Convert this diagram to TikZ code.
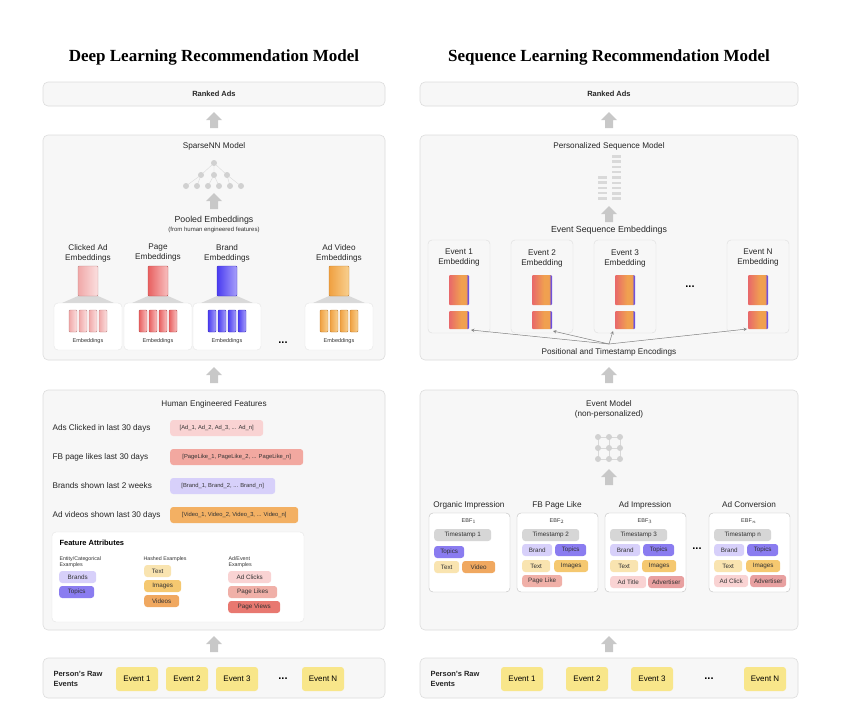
\documentclass[tikz,border=0pt]{standalone}
\usepackage{fontspec}
\setmainfont{Liberation Sans}
\newfontfamily\ttlfont{Liberation Serif}
\definecolor{pnl}{HTML}{F7F7F7}
\definecolor{pbd}{HTML}{DDDDDD}
\definecolor{garr}{HTML}{C8C8C8}
\definecolor{yel}{HTML}{F8E68A}
\definecolor{blueD}{HTML}{8A7CF0}
\definecolor{blueL}{HTML}{D7D0FA}
\definecolor{txtY}{HTML}{F9E4B0}
\definecolor{imgY}{HTML}{F5C870}
\definecolor{vidO}{HTML}{F0A860}
\definecolor{pinkL}{HTML}{F9D3D3}
\definecolor{pinkM}{HTML}{F0B0A8}
\definecolor{redM}{HTML}{E87870}
\definecolor{advR}{HTML}{E8A0A0}
\definecolor{tsG}{HTML}{D6D6D6}
\definecolor{evR}{HTML}{E8686A}
\definecolor{evO}{HTML}{F0A050}
\definecolor{evP}{HTML}{6A4FE0}
\definecolor{pgR}{HTML}{F2A8A0}
\definecolor{vdO}{HTML}{F3B063}
\pgfdeclarehorizontalshading{evgrad}{100bp}{color(0bp)=(evR);color(25bp)=(evR);color(55bp)=(evO);color(68bp)=(evO);color(72bp)=(evP);color(100bp)=(evP)}
\tikzset{
 panel/.style={draw=pbd,fill=pnl,rounded corners=5pt,line width=0.6pt},
 uarr/.pic={\fill[garr] (-4,8) -- (-4,0) -- (-8,0) -- (0,-8) -- (8,0) -- (4,0) -- (4,8) -- cycle;},
 lbl/.style={font=\fontsize{8.2}{10}\selectfont,align=center,text=black!85},
 sm/.style={font=\fontsize{6}{7}\selectfont,text=black!80},
 pill/.style={rounded corners=3pt,inner sep=0pt,minimum height=12pt,font=\fontsize{6.3}{7}\selectfont,text=black!80},
 evt/.style={fill=yel,rounded corners=3pt,minimum width=42pt,minimum height=24pt,inner sep=0pt,font=\fontsize{8}{9}\selectfont},
 gdot/.style={circle,fill=black!18,inner sep=0pt,minimum size=6pt},
 dots/.style={font=\bfseries\fontsize{11}{11}\selectfont},
}
\begin{document}
\begin{tikzpicture}[x=1pt,y=-1pt]
\useasboundingbox[fill=white] (0,0) rectangle (847,721);
% titles
\node[font=\ttlfont\bfseries\fontsize{17}{19}\selectfont] (t1) at (214,57) {Deep Learning Recommendation Model};
\node[font=\ttlfont\bfseries\fontsize{17}{19}\selectfont] (t2) at (609,57) {Sequence Learning Recommendation Model};
% ===== LEFT =====
\draw[panel] (43,82) rectangle (385,106);
\node[lbl,font=\bfseries\fontsize{7.5}{8}\selectfont] (lra) at (214,94) {Ranked Ads};
\pic at (214,120) {uarr};
\draw[panel] (43,135) rectangle (385,360);
\node[lbl] (lsp) at (214,146) {SparseNN Model};
% tree
\draw[black!15] (214,163) -- (201,175) (214,163) -- (214,175) (214,163) -- (227,175)
 (201,175) -- (186,186) (201,175) -- (197,186) (214,175) -- (208,186) (214,175) -- (219,186) (227,175) -- (230,186) (227,175) -- (241,186);
\node[gdot] (n0) at (214,163) {};
\foreach \i/\x in {1/201,2/214,3/227}{\node[gdot] (m\i) at (\x,175) {};}
\foreach \i/\x in {1/186,2/197,3/208,4/219,5/230,6/241}{\node[gdot] (b\i) at (\x,186) {};}
\pic at (214,201) {uarr};
\node[lbl,font=\fontsize{8.8}{10}\selectfont] (lpe) at (214,220) {Pooled Embeddings};
\node[sm] (lpe2) at (214,229.5) {(from human engineered features)};
\foreach \cx/\nm/\ca/\cb/\tx in {88/ca/F0A8A8/FBE0E0/Clicked Ad\\Embeddings,158/pg/E86060/F8C0C0/Page\\Embeddings,227/br/4A3CF0/A8A0FA/Brand\\Embeddings,339/av/F0A040/F8D090/Ad Video\\Embeddings}{
 \node[lbl,font=\fontsize{8.2}{10}\selectfont] (lab\nm) at (\cx,253) {\tx};
 \definecolor{cA}{HTML}{\ca}\definecolor{cB}{HTML}{\cb}
 \fill[black!15] (\cx-10,296) -- (\cx+10,296) -- (\cx+26,303) -- (\cx-26,303) -- cycle;
 \draw[left color=cA,right color=cB,draw=cA!80!black,rounded corners=1pt] (\cx-10,266) rectangle (\cx+10,296);
 \node[draw=black!10,fill=white,rounded corners=4pt,minimum width=68pt,minimum height=47pt] (card\nm) at (\cx,326.5) {};
 \foreach \k in {0,1,2,3}{\draw[left color=cA,right color=cB,draw=cA!80!black,rounded corners=1pt] (\cx-19+\k*10,310) rectangle (\cx-11+\k*10,332);}
 \node[sm,font=\fontsize{5.5}{6}\selectfont] at (\cx,341) {Embeddings};
}
\node[dots] (ldots1) at (283,343) {...};
\pic at (214,375) {uarr};
% human engineered
\draw[panel] (43,390) rectangle (385,630);
\node[lbl] (lhe) at (214,404) {Human Engineered Features};
\foreach \y/\tx/\pt/\w/\c in {428/Ads Clicked in last 30 days/{[Ad\_1, Ad\_2, Ad\_3, ... Ad\_n]}/93/pinkL,457/FB page likes last 30 days/{[PageLike\_1, PageLike\_2, ... PageLike\_n]}/133/pgR,486/Brands shown last 2 weeks/{[Brand\_1, Brand\_2, ... Brand\_n]}/105/blueL,515/Ad videos shown last 30 days/{[Video\_1, Video\_2, Video\_3, ... Video\_n]}/128/vdO}{
 \node[lbl,anchor=west] at (49,\y) {\tx};
 \node[pill,anchor=west,minimum width=\w pt,minimum height=16pt,fill=\c,font=\fontsize{5.8}{6}\selectfont] at (170,\y) {\pt};
}
\draw[draw=black!10,fill=white,rounded corners=4pt] (52,532) rectangle (304,622);
\node[anchor=west,font=\bfseries\fontsize{7.5}{8}\selectfont] (lfa) at (56,543) {Feature Attributes};
\node[sm,anchor=north west,align=left,font=\fontsize{5.3}{6.3}\selectfont] at (56,553) {Entity/Categorical\\Examples};
\node[sm,anchor=north west,align=left,font=\fontsize{5.3}{6.3}\selectfont] at (140,553) {Hashed Examples};
\node[sm,anchor=north west,align=left,font=\fontsize{5.3}{6.3}\selectfont] at (225,553) {Ad/Event\\Examples};
\node[pill,anchor=west,fill=blueL,minimum width=37pt] at (59,577) {Brands};
\node[pill,anchor=west,fill=blueD,minimum width=35pt] at (59,592) {Topics};
\node[pill,anchor=west,fill=txtY,minimum width=27pt] at (144,571) {Text};
\node[pill,anchor=west,fill=imgY,minimum width=37pt] at (144,586) {Images};
\node[pill,anchor=west,fill=vidO,minimum width=35pt] at (144,601) {Videos};
\node[pill,anchor=west,fill=pinkL,minimum width=43pt] at (228,577) {Ad Clicks};
\node[pill,anchor=west,fill=pinkM,minimum width=49pt] at (228,592) {Page Likes};
\node[pill,anchor=west,fill=redM,minimum width=52pt] at (228,607) {Page Views};
\pic at (214,644) {uarr};
\draw[panel] (43,658) rectangle (385,698);
\node[lbl,anchor=west,align=left,font=\bfseries\fontsize{7.5}{9.5}\selectfont] (lpr) at (50,679) {Person's Raw\\Events};
\node[evt] (le1) at (137,679) {Event 1};
\node[evt] (le2) at (187,679) {Event 2};
\node[evt] (le3) at (237,679) {Event 3};
\node[dots] (ldots2) at (283,679) {...};
\node[evt] (len) at (323,679) {Event N};
% ===== RIGHT =====
\draw[panel] (420,82) rectangle (798,106);
\node[lbl,font=\bfseries\fontsize{7.5}{8}\selectfont] (rra) at (609,94) {Ranked Ads};
\pic at (609,120) {uarr};
\draw[panel] (420,135) rectangle (798,360);
\node[lbl] (rps) at (609,146) {Personalized Sequence Model};
\foreach \k in {0,...,8}{\fill[black!15] (612,155+\k*5.3) rectangle (621,157.5+\k*5.3);}
\foreach \k in {0,...,4}{\fill[black!15] (598,176+\k*5.3) rectangle (607,178.5+\k*5.3);}
\pic at (609,214) {uarr};
\node[lbl,font=\fontsize{8.8}{10}\selectfont] (res) at (609,230) {Event Sequence Embeddings};
\coordinate (pe) at (609,344);
\foreach \x/\tx in {428/Event 1\\Embedding,511/Event 2\\Embedding,594/Event 3\\Embedding,727/Event N\\Embedding}{
 \draw[draw=pbd,fill=pnl,rounded corners=4pt] (\x,240) rectangle (\x+62,333);
 \node[lbl] at (\x+31,258) {\tx};
 \shade[shading=evgrad,rounded corners=1pt] (\x+21,275) rectangle (\x+41,305);
 \shade[shading=evgrad,rounded corners=1pt] (\x+21,311) rectangle (\x+41,329);
}
\coordinate (sb1) at (471,330);\coordinate (sb2) at (553,331);\coordinate (sb3) at (613,331);\coordinate (sb4) at (747,329);
\foreach \n in {1,...,4}{\draw[->,>=stealth,black!50,line width=0.5pt] (pe) -- (sb\n);}
\node[dots] (rdots1) at (690,287) {...};
\node[lbl] (rpt) at (609,352) {Positional and Timestamp Encodings};
\pic at (609,375) {uarr};
\draw[panel] (420,390) rectangle (798,630);
\node[lbl] (rem) at (609,409) {Event Model\\(non-personalized)};
\draw[black!15] (598,437) -- (620,437) (598,448) -- (620,448) (598,459) -- (620,459)
 (598,437) -- (598,459) (609,437) -- (609,459) (620,437) -- (620,459);
\foreach \i/\x in {1/598,2/609,3/620}{\foreach \j/\y in {1/437,2/448,3/459}{\node[gdot] (g\i\j) at (\x,\y) {};}}
\pic at (609,477) {uarr};
% event cards
\foreach \x/\t/\e in {429/Organic Impression/1,517/FB Page Like/2,605/Ad Impression/3,709/Ad Conversion/n}{
 \node[lbl,anchor=base] at (\x+40,507) {\t};
 \draw[draw=black!25,fill=white,rounded corners=4pt] (\x,513) rectangle (\x+81,592);
 \node[sm,font=\fontsize{5.5}{6}\selectfont] at (\x+40,521) {EBF$_{\e}$};
}
\node[pill,anchor=west,fill=tsG,minimum width=57pt] at (434,535) {Timestamp 1};
\node[pill,anchor=west,fill=blueD,minimum width=30pt] at (434,552) {Topics};
\node[pill,anchor=west,fill=txtY,minimum width=25pt] at (434,567) {Text};
\node[pill,anchor=west,fill=vidO,minimum width=33pt] at (462,567) {Video};
\foreach \x/\n in {517/2,605/3,709/n}{
 \node[pill,anchor=west,fill=tsG,minimum width=57pt] at (\x+5,535) {Timestamp \n};
 \node[pill,anchor=west,fill=blueL,minimum width=30pt] at (\x+5,550) {Brand};
 \node[pill,anchor=west,fill=blueD,minimum width=31pt] at (\x+38,550) {Topics};
 \node[pill,anchor=west,fill=txtY,minimum width=28pt] at (\x+5,566) {Text};
 \node[pill,anchor=west,fill=imgY,minimum width=34pt] at (\x+37,566) {Images};
}
\node[pill,anchor=west,fill=pinkM,minimum width=40pt] at (522,581) {Page Like};
\node[pill,anchor=west,fill=pinkL,minimum width=36pt] at (610,582) {Ad Title};
\node[pill,anchor=west,fill=advR,minimum width=36pt] at (648,582) {Advertiser};
\node[pill,anchor=west,fill=pinkL,minimum width=34pt] at (714,581) {Ad Click};
\node[pill,anchor=west,fill=advR,minimum width=36pt] at (750,581) {Advertiser};
\node[dots] (rdots2) at (697,549) {...};
\pic at (609,644) {uarr};
\draw[panel] (420,658) rectangle (798,698);
\node[lbl,anchor=west,align=left,font=\bfseries\fontsize{7.5}{9.5}\selectfont] (rpr) at (427,679) {Person's Raw\\Events};
\node[evt] (re1) at (522,679) {Event 1};
\node[evt] (re2) at (587,679) {Event 2};
\node[evt] (re3) at (652,679) {Event 3};
\node[dots] (rdots3) at (709,679) {...};
\node[evt] (ren) at (765,679) {Event N};
\end{tikzpicture}
\end{document}
